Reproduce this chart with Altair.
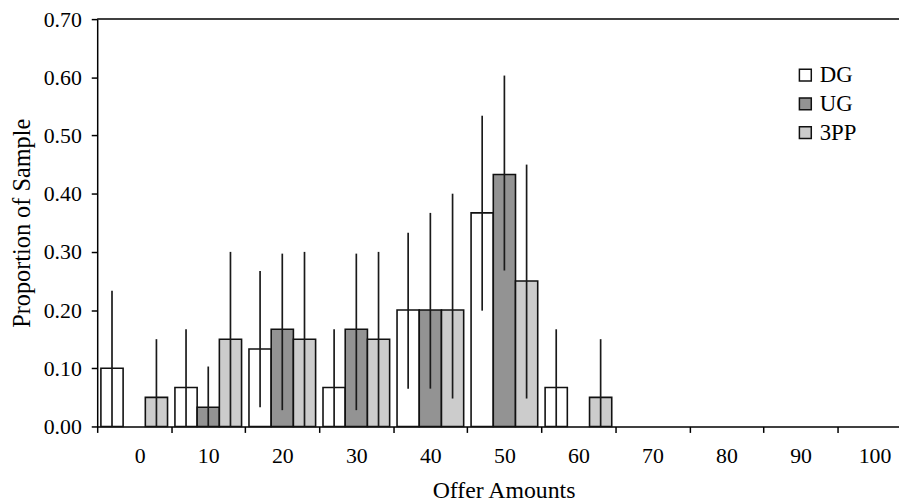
import altair as alt
import pandas as pd

offers = [0, 10, 20, 30, 40, 50, 60, 70, 80, 90, 100]
groups = ["DG", "UG", "3PP"]

dg = [0.100, 0.067, 0.133, 0.067, 0.200, 0.367, 0.067, 0, 0, 0, 0]
ug = [0.000, 0.033, 0.167, 0.167, 0.200, 0.433, 0.000, 0, 0, 0, 0]
pp = [0.050, 0.150, 0.150, 0.150, 0.200, 0.250, 0.050, 0, 0, 0, 0]

dg_lo = [0.000, 0.000, 0.033, 0.000, 0.065, 0.199, 0.000, 0, 0, 0, 0]
dg_hi = [0.233, 0.167, 0.267, 0.167, 0.333, 0.534, 0.167, 0, 0, 0, 0]
ug_lo = [0.000, 0.000, 0.028, 0.028, 0.065, 0.268, 0.000, 0, 0, 0, 0]
ug_hi = [0.000, 0.103, 0.297, 0.297, 0.367, 0.603, 0.000, 0, 0, 0, 0]
pp_lo = [0.000, 0.000, 0.000, 0.000, 0.048, 0.048, 0.000, 0, 0, 0, 0]
pp_hi = [0.150, 0.300, 0.300, 0.300, 0.400, 0.450, 0.150, 0, 0, 0, 0]

y_ticks = [0.0, 0.1, 0.2, 0.3, 0.4, 0.5, 0.6, 0.7]
x_ticks = [-5, 5, 15, 25, 35, 45, 55, 65, 75, 85, 95]
y_top = 0.7

series = {
    "DG": (dg, dg_lo, dg_hi),
    "UG": (ug, ug_lo, ug_hi),
    "3PP": (pp, pp_lo, pp_hi),
}
rows = []
for i, o in enumerate(offers):
    for k, g in enumerate(groups):
        v, lo, hi = series[g]
        rows.append(dict(offer=o, group=g, idx=k, value=v[i], lo=lo[i], hi=hi[i]))
df = pd.DataFrame(rows)

FONT = "Liberation Serif"

xscale = alt.Scale(domain=[-5, 103.3], nice=False, zero=False)
xaxis = alt.Axis(
    values=x_ticks,
    labelExpr="format(datum.value + 5, 'd')",
    labelOffset=37.35,
    title="Offer Amounts",
    titleX=410,
    titleY=72,
    titleAlign="center",
    titleBaseline="alphabetic",
    tickSize=6,
    labelPadding=13,
    labelFontSize=22,
    titleFontSize=24,
    grid=False,
)
yaxis = alt.Axis(
    values=y_ticks,
    format=".2f",
    title="Proportion of Sample",
    titleX=-75,
    titleY=205.5,
    titleAngle=270,
    titleAlign="center",
    titleBaseline="middle",
    tickSize=6,
    labelPadding=10,
    labelFontSize=22,
    titleFontSize=24.5,
    grid=False,
)
yscale = alt.Scale(domain=[0, 0.7], nice=False)

base = alt.Chart(df).transform_calculate(
    x0="datum.offer - 4.5 + datum.idx * 3",
    x1="datum.offer - 1.5 + datum.idx * 3",
    xc="datum.offer - 3 + datum.idx * 3",
)

bars = base.transform_filter("datum.value > 0").mark_rect(
    stroke="#111111", strokeWidth=1.6
).encode(
    x=alt.X("x0:Q", scale=xscale, axis=xaxis),
    x2="x1:Q",
    y=alt.Y("value:Q", scale=yscale, axis=yaxis),
    y2=alt.datum(0),
    color=alt.Color(
        "group:N",
        scale=alt.Scale(domain=groups, range=["#ffffff", "#939393", "#cccccc"]),
        legend=alt.Legend(
            title=None,
            orient="none",
            legendX=703,
            legendY=45,
            symbolType="square",
            symbolSize=144,
            symbolStrokeColor="#111111",
            symbolStrokeWidth=1.5,
            labelFontSize=23,
            labelFont=FONT,
            labelColor="black",
            labelOffset=3,
            rowPadding=5,
            padding=0,
        ),
    ),
)

rules = base.transform_filter("datum.hi > 0").mark_rule(
    color="#1a1a1a", strokeWidth=1.7
).encode(
    x=alt.X("xc:Q", scale=xscale, axis=xaxis),
    y=alt.Y("lo:Q", scale=yscale, axis=yaxis),
    y2="hi:Q",
)

top_line = alt.Chart(pd.DataFrame({"top": [y_top]})).mark_rule(
    color="black", strokeWidth=1.5
).encode(y=alt.Y("top:Q", scale=yscale, axis=yaxis))

chart = alt.layer(bars, rules, top_line).properties(
    width=809,
    height=411,
    padding={"left": 90, "top": 9, "right": 0, "bottom": 74},
    autosize=alt.AutoSizeParams(type="none"),
    background="white",
).configure_view(stroke=None).configure_axis(
    domainColor="black",
    domainWidth=1.5,
    tickColor="black",
    tickWidth=1.5,
    labelColor="black",
    titleColor="black",
    titleFontWeight="normal",
    labelFont=FONT,
    titleFont=FONT,
    grid=False,
)

chart.save("out.html", embed_options={"renderer": "svg", "actions": False})
